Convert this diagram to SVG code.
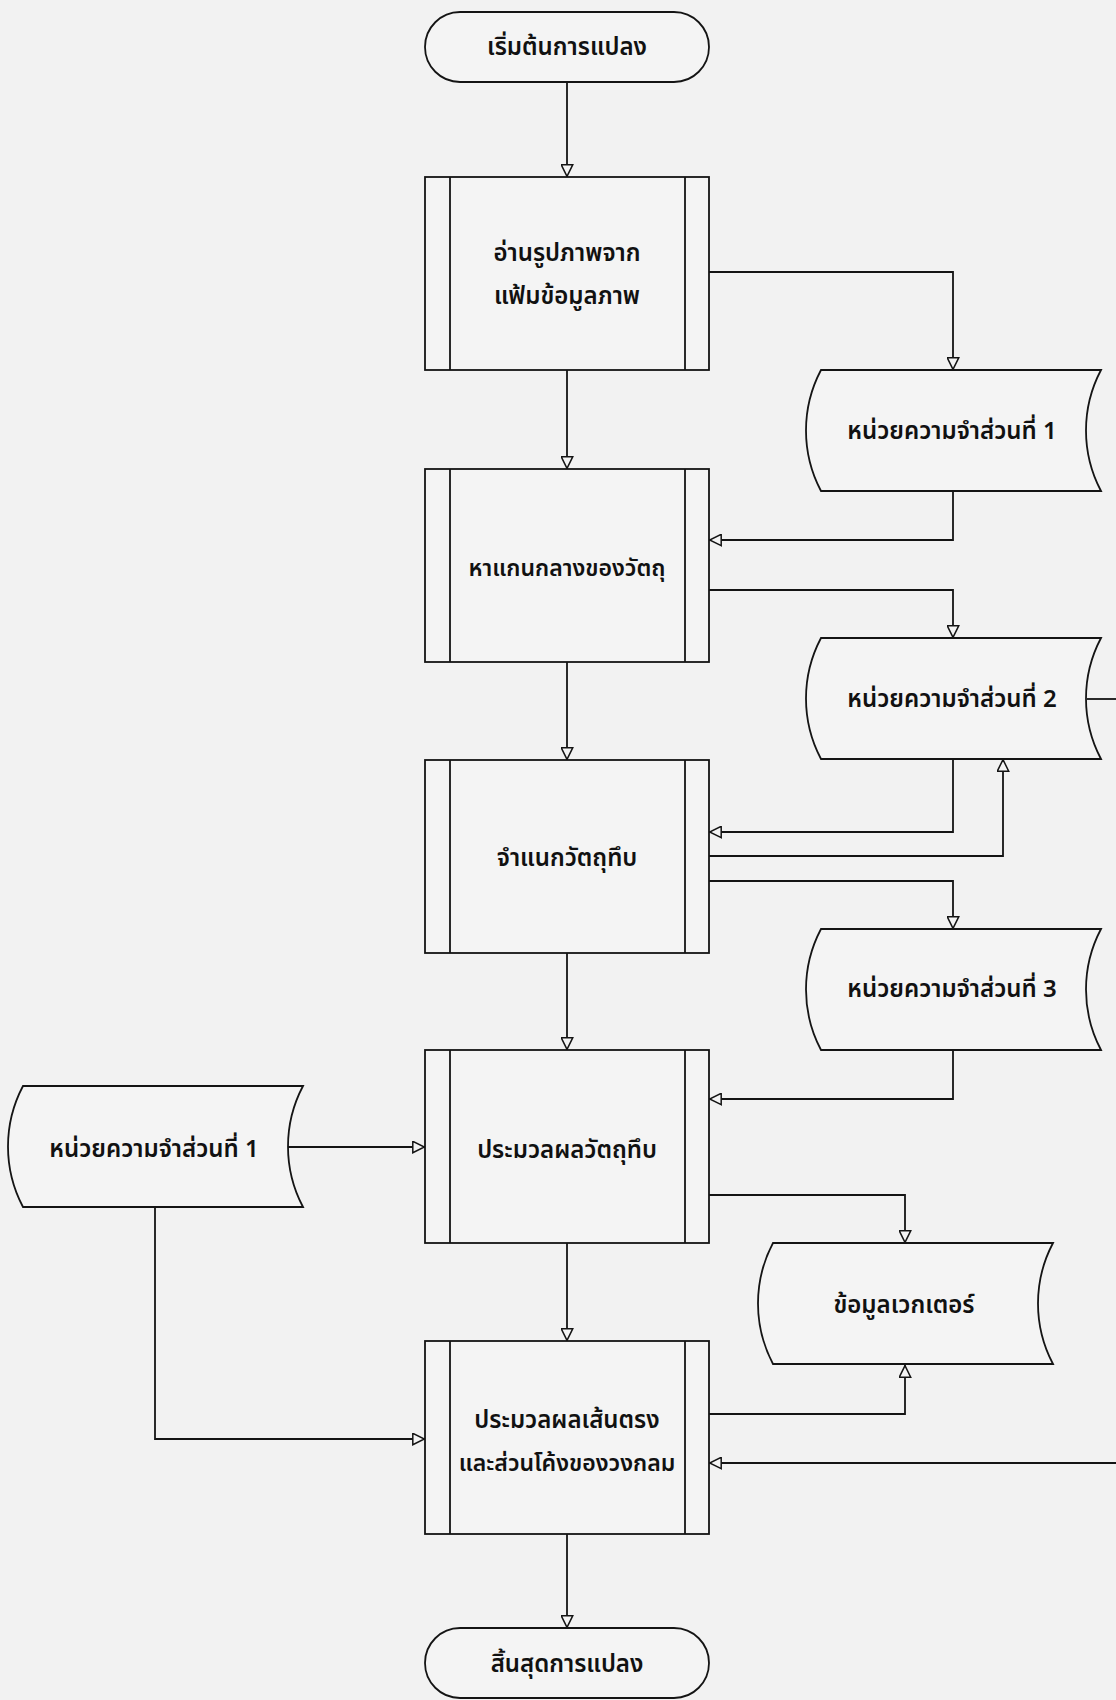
<svg xmlns="http://www.w3.org/2000/svg" width="1116" height="1700" viewBox="0 0 1116 1700">
<style>
.bg{fill:#f2f2f2}
.shape{fill:#f4f4f4;stroke:#141414;stroke-width:1.8}
.div{stroke:#141414;stroke-width:1.8}
.conn{fill:none;stroke:#141414;stroke-width:1.8;marker-end:url(#arr)}
.line{fill:none;stroke:#141414;stroke-width:1.8}
text{font-family:"Noto Sans Thai","Noto Sans","DejaVu Sans",sans-serif;font-size:24px;font-weight:600;fill:#111;text-anchor:middle;dominant-baseline:central}
.wide{font-size:23px}
</style>
<defs>
<marker id="arr" viewBox="0 0 13 13" refX="13" refY="6.5" markerWidth="13" markerHeight="13" markerUnits="userSpaceOnUse" orient="auto">
<path d="M0.8,0.8 L12.4,6.5 L0.8,12.2 Z" fill="#f4f4f4" stroke="#141414" stroke-width="1.5"/>
</marker>
<path id="store" d="M0,0 H280 A129.5 129.5 0 0 0 280 121 H0 A129.5 129.5 0 0 1 0 0 Z"/>
</defs>
<rect class="bg" x="0" y="0" width="1116" height="1700"/>

<g id="connectors">
<path class="conn" d="M567,82 V177"/>
<path class="conn" d="M567,370 V469"/>
<path class="conn" d="M567,662 V760"/>
<path class="conn" d="M567,953 V1050"/>
<path class="conn" d="M567,1243 V1341"/>
<path class="conn" d="M567,1534 V1628"/>
<path class="conn" d="M709,272 H953 V370"/>
<path class="conn" d="M953,491 V540 H709"/>
<path class="conn" d="M709,590 H953 V638"/>
<path class="conn" d="M953,759 V832 H709"/>
<path class="conn" d="M709,856 H1003 V759"/>
<path class="conn" d="M709,881 H953 V929"/>
<path class="conn" d="M953,1050 V1099 H709"/>
<path class="line" d="M1087,699 H1116"/>
<path class="conn" d="M1116,1463 H709"/>
<path class="conn" d="M283,1147 H425"/>
<path class="conn" d="M155,1207 V1439 H425"/>
<path class="conn" d="M709,1195 H905 V1243"/>
<path class="conn" d="M709,1414 H905 V1365"/>
</g>

<g id="start">
<rect class="shape" x="425" y="12" width="284" height="70" rx="35" ry="35"/>
<text x="567" y="48">เริ่มต้นการแปลง</text>
</g>

<g id="p1">
<rect class="shape" x="425" y="177" width="284" height="193"/>
<line class="div" x1="450" y1="177" x2="450" y2="370"/>
<line class="div" x1="685" y1="177" x2="685" y2="370"/>
<text x="567" y="254">อ่านรูปภาพจาก</text>
<text x="567" y="297">แฟ้มข้อมูลภาพ</text>
</g>

<g id="p2">
<rect class="shape" x="425" y="469" width="284" height="193"/>
<line class="div" x1="450" y1="469" x2="450" y2="662"/>
<line class="div" x1="685" y1="469" x2="685" y2="662"/>
<text class="wide" x="567" y="569">หาแกนกลางของวัตถุ</text>
</g>

<g id="p3">
<rect class="shape" x="425" y="760" width="284" height="193"/>
<line class="div" x1="450" y1="760" x2="450" y2="953"/>
<line class="div" x1="685" y1="760" x2="685" y2="953"/>
<text x="567" y="859">จำแนกวัตถุทึบ</text>
</g>

<g id="p4">
<rect class="shape" x="425" y="1050" width="284" height="193"/>
<line class="div" x1="450" y1="1050" x2="450" y2="1243"/>
<line class="div" x1="685" y1="1050" x2="685" y2="1243"/>
<text x="567" y="1151">ประมวลผลวัตถุทึบ</text>
</g>

<g id="p5">
<rect class="shape" x="425" y="1341" width="284" height="193"/>
<line class="div" x1="450" y1="1341" x2="450" y2="1534"/>
<line class="div" x1="685" y1="1341" x2="685" y2="1534"/>
<text x="567" y="1421">ประมวลผลเส้นตรง</text>
<text class="wide" x="567" y="1464">และส่วนโค้งของวงกลม</text>
</g>

<g id="end">
<rect class="shape" x="425" y="1628" width="284" height="70" rx="35" ry="35"/>
<text x="567" y="1665">สิ้นสุดการแปลง</text>
</g>

<g id="mem1">
<use href="#store" class="shape" x="821" y="370"/>
<text x="952" y="432">หน่วยความจำส่วนที่ 1</text>
</g>

<g id="mem2">
<use href="#store" class="shape" x="821" y="638"/>
<text x="952" y="700">หน่วยความจำส่วนที่ 2</text>
</g>

<g id="mem3">
<use href="#store" class="shape" x="821" y="929"/>
<text x="952" y="990">หน่วยความจำส่วนที่ 3</text>
</g>

<g id="memLeft">
<use href="#store" class="shape" x="23" y="1086"/>
<text x="154" y="1150">หน่วยความจำส่วนที่ 1</text>
</g>

<g id="vector">
<use href="#store" class="shape" x="773" y="1243"/>
<text x="904" y="1306">ข้อมูลเวกเตอร์</text>
</g>
</svg>
